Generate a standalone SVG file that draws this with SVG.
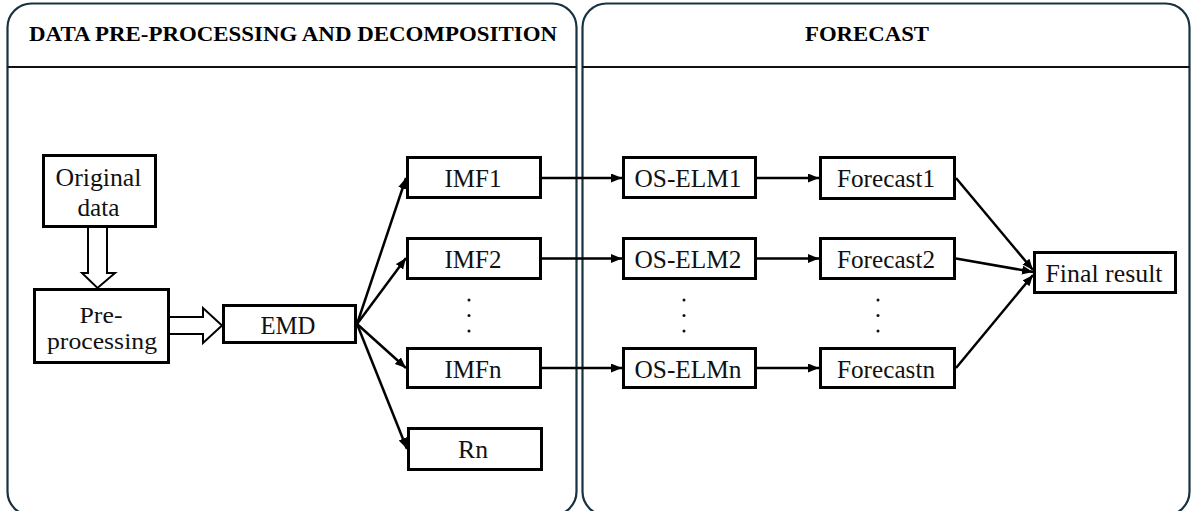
<svg xmlns="http://www.w3.org/2000/svg" width="1192" height="511" viewBox="0 0 1192 511">
<style>
.panel{fill:#fff;stroke:#183241;stroke-width:2.2}
.hdr{stroke:#111;stroke-width:2}
.box{fill:#fff;stroke:#000;stroke-width:3}
.t{font-family:"Liberation Serif","Times New Roman",serif;font-size:25px;fill:#111;text-anchor:middle}
.s{font-size:23px}
.h{font-family:"Liberation Serif","Times New Roman",serif;font-size:22px;font-weight:bold;fill:#000;text-anchor:middle}
.c{stroke:#000;stroke-width:2.5;fill:none}
.hollow{fill:#fff;stroke:#000;stroke-width:2}
.dot{fill:#111}
</style>
<defs>
<marker id="ah" markerUnits="userSpaceOnUse" markerWidth="12" markerHeight="10" refX="11" refY="4.5" orient="auto">
<path d="M0,0 L11,4.5 L0,9 z" fill="#000"/>
</marker>
</defs>
<g id="panel-left">
<rect class="panel" x="7.5" y="3.5" width="569" height="512" rx="24"/>
<line class="hdr" x1="7.5" y1="67" x2="576.5" y2="67"/>
<text class="h" x="293" y="41" textLength="528" lengthAdjust="spacingAndGlyphs">DATA PRE-PROCESSING AND DECOMPOSITION</text>
</g>
<g id="panel-right">
<rect class="panel" x="582.5" y="3.5" width="607" height="512" rx="24"/>
<line class="hdr" x1="582.5" y1="67" x2="1189.5" y2="67"/>
<text class="h" x="867" y="41" textLength="124" lengthAdjust="spacingAndGlyphs">FORECAST</text>
</g>
<g id="connectors">
<path class="hollow" d="M88,228 L88,273 L82,273 L97.5,288 L115,273 L107,273 L107,228"/>
<path class="hollow" d="M170,317 L203,317 L203,308 L222,325.5 L203,343 L203,334 L170,334"/>
<line class="c" x1="357" y1="324" x2="406" y2="178" marker-end="url(#ah)"/>
<line class="c" x1="357" y1="324" x2="406" y2="258" marker-end="url(#ah)"/>
<line class="c" x1="357" y1="324" x2="406" y2="368" marker-end="url(#ah)"/>
<line class="c" x1="357" y1="324" x2="407" y2="449" marker-end="url(#ah)"/>
<line class="c" x1="542" y1="178" x2="622" y2="178" marker-end="url(#ah)"/>
<line class="c" x1="542" y1="258.5" x2="622" y2="258.5" marker-end="url(#ah)"/>
<line class="c" x1="542" y1="368" x2="622" y2="368" marker-end="url(#ah)"/>
<line class="c" x1="757" y1="178" x2="819" y2="178" marker-end="url(#ah)"/>
<line class="c" x1="757" y1="258.5" x2="819" y2="258.5" marker-end="url(#ah)"/>
<line class="c" x1="757" y1="368" x2="819" y2="368" marker-end="url(#ah)"/>
<line class="c" x1="956" y1="178" x2="1033" y2="270" marker-end="url(#ah)"/>
<line class="c" x1="956" y1="258.5" x2="1033" y2="272" marker-end="url(#ah)"/>
<line class="c" x1="956" y1="368" x2="1033" y2="275" marker-end="url(#ah)"/>
</g>
<g id="original-data">
<rect class="box" x="43.5" y="155.5" width="112" height="71"/>
<text class="t" x="98.5" y="186" textLength="86" lengthAdjust="spacingAndGlyphs">Original</text>
<text class="t" x="98.5" y="216" textLength="42" lengthAdjust="spacingAndGlyphs">data</text>
</g>
<g id="pre-processing">
<rect class="box" x="34.5" y="289.5" width="134" height="73"/>
<text class="t s" x="101" y="323" textLength="43" lengthAdjust="spacingAndGlyphs">Pre-</text>
<text class="t s" x="102" y="349" textLength="110" lengthAdjust="spacingAndGlyphs">processing</text>
</g>
<g id="emd">
<rect class="box" x="223.5" y="305.5" width="132" height="37"/>
<text class="t" x="288" y="334" textLength="55" lengthAdjust="spacingAndGlyphs">EMD</text>
</g>
<g id="imf1">
<rect class="box" x="407.5" y="157.5" width="133" height="40"/>
<text class="t" x="473" y="187" textLength="57" lengthAdjust="spacingAndGlyphs">IMF1</text>
</g>
<g id="imf2">
<rect class="box" x="407.5" y="238.5" width="133" height="40"/>
<text class="t" x="473" y="268" textLength="57" lengthAdjust="spacingAndGlyphs">IMF2</text>
</g>
<g id="imf-dots">
<circle class="dot" cx="469" cy="300" r="1.5"/>
<circle class="dot" cx="469" cy="315.5" r="1.5"/>
<circle class="dot" cx="469" cy="331" r="1.5"/>
</g>
<g id="imfn">
<rect class="box" x="407.5" y="348.5" width="133" height="39"/>
<text class="t" x="473" y="378" textLength="57" lengthAdjust="spacingAndGlyphs">IMFn</text>
</g>
<g id="rn">
<rect class="box" x="408.5" y="428.5" width="133" height="41"/>
<text class="t" x="473" y="457.5" textLength="30" lengthAdjust="spacingAndGlyphs">Rn</text>
</g>
<g id="os-elm1">
<rect class="box" x="623.5" y="157.5" width="132" height="40"/>
<text class="t" x="688" y="187" textLength="107" lengthAdjust="spacingAndGlyphs">OS-ELM1</text>
</g>
<g id="os-elm2">
<rect class="box" x="623.5" y="238.5" width="132" height="40"/>
<text class="t" x="688" y="268" textLength="107" lengthAdjust="spacingAndGlyphs">OS-ELM2</text>
</g>
<g id="os-elm-dots">
<circle class="dot" cx="684" cy="300" r="1.5"/>
<circle class="dot" cx="684" cy="315.5" r="1.5"/>
<circle class="dot" cx="684" cy="331" r="1.5"/>
</g>
<g id="os-elmn">
<rect class="box" x="623.5" y="348.5" width="132" height="39"/>
<text class="t" x="688" y="378" textLength="107" lengthAdjust="spacingAndGlyphs">OS-ELMn</text>
</g>
<g id="forecast1">
<rect class="box" x="820.5" y="157.5" width="134" height="41"/>
<text class="t" x="886" y="187" textLength="98" lengthAdjust="spacingAndGlyphs">Forecast1</text>
</g>
<g id="forecast2">
<rect class="box" x="820.5" y="238.5" width="134" height="40"/>
<text class="t" x="886" y="268" textLength="98" lengthAdjust="spacingAndGlyphs">Forecast2</text>
</g>
<g id="forecast-dots">
<circle class="dot" cx="878" cy="300" r="1.5"/>
<circle class="dot" cx="878" cy="315.5" r="1.5"/>
<circle class="dot" cx="878" cy="331" r="1.5"/>
</g>
<g id="forecastn">
<rect class="box" x="820.5" y="348.5" width="134" height="39"/>
<text class="t" x="886" y="378" textLength="98" lengthAdjust="spacingAndGlyphs">Forecastn</text>
</g>
<g id="final-result">
<rect class="box" x="1034.5" y="252.5" width="141" height="40"/>
<text class="t" x="1104" y="282" textLength="117" lengthAdjust="spacingAndGlyphs">Final result</text>
</g>
</svg>
